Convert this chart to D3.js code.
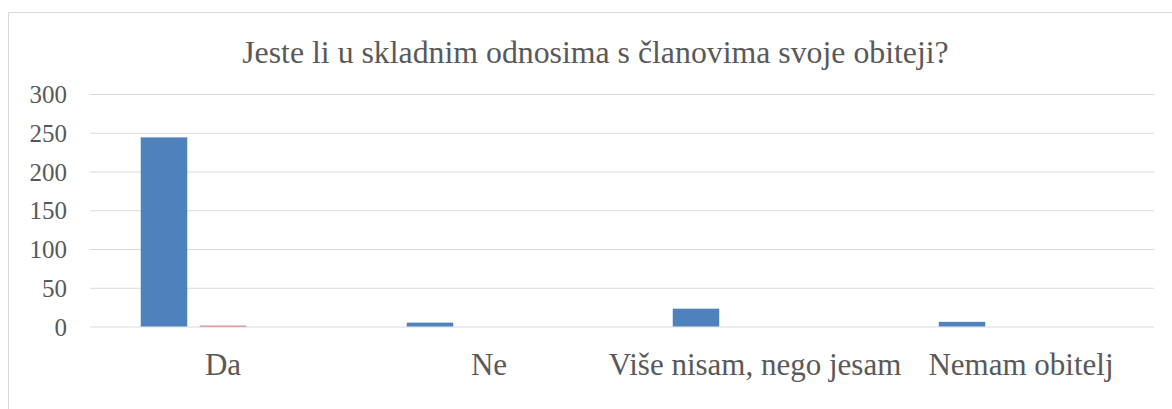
<!DOCTYPE html>
<html>
<head>
<meta charset="utf-8">
<script src="https://cdn.jsdelivr.net/npm/d3@7"></script>
<style>
  body { margin: 0; background: #fff; }
  svg { display: block; }
</style>
</head>
<body>
<svg id="chart" width="1172" height="409"></svg>
<script>
'use strict';

// Chart values.
var title = 'Jeste li u skladnim odnosima s članovima svoje obiteji?';
var categories = ['Da', 'Ne', 'Više nisam, nego jesam', 'Nemam obitelj'];
var seriesNames = ['Niz 1', 'Niz 2', 'Niz 3'];
var series1 = [244, 5, 23, 6];
var series2 = [1, 0, 0, 0];
var series3 = [0, 0, 0, 0];
var yTicks = [0, 50, 100, 150, 200, 250, 300];
var seriesColors = ['#4f81bd', '#c0504d', '#9bbb59'];

var fontFamily = '"Liberation Serif", "Times New Roman", serif';
var textColor = '#595959';
var svg = d3.select('#chart');

var plot = {left: 90, right: 1154, top: 94, bottom: 326.5};

// Outer frame, cut off at the right and bottom edges like the source.
svg.append('rect')
    .attr('x', 8.5)
    .attr('y', 12.5)
    .attr('width', 1250)
    .attr('height', 500)
    .attr('fill', 'none')
    .attr('stroke', '#d9d9d9');

var x0 = d3.scaleBand()
    .domain(categories)
    .range([plot.left, plot.right]);

// Inner band for the three series, group is centred inside each category.
var groupWidth = 164.5;
var x1 = d3.scaleBand()
    .domain(seriesNames)
    .range([(x0.bandwidth() - groupWidth) / 2, (x0.bandwidth() + groupWidth) / 2])
    .paddingInner(0.212);

var y = d3.scaleLinear()
    .domain([0, 300])
    .range([plot.bottom, plot.top]);

// Gridlines and value labels.
var yAxis = d3.axisLeft(y)
    .tickValues(yTicks)
    .tickSize(-(plot.right - plot.left))
    .tickPadding(23);

var yAxisG = svg.append('g')
    .attr('transform', 'translate(' + plot.left + ',0)')
    .call(yAxis);

yAxisG.select('.domain').remove();
yAxisG.selectAll('.tick line')
    .attr('stroke', '#d9d9d9')
    .attr('stroke-width', 1.2);
yAxisG.selectAll('.tick text')
    .style('font-family', fontFamily)
    .style('font-size', '25px')
    .attr('fill', textColor)
    .attr('dy', '0.34em');

// Bars, one group per category.
var rows = categories.map(function(c, i) {
    return {category: c, values: [series1[i], series2[i], series3[i]]};
});

var groups = svg.append('g')
    .selectAll('g')
    .data(rows)
    .join('g')
    .attr('transform', function(d) { return 'translate(' + x0(d.category) + ',0)'; });

groups.selectAll('rect')
    .data(function(d) {
        return d.values.map(function(v, i) { return {name: seriesNames[i], value: v, color: seriesColors[i]}; });
    })
    .join('rect')
    .attr('x', function(d) { return x1(d.name); })
    .attr('width', x1.bandwidth())
    .attr('y', function(d) { return y(d.value); })
    .attr('height', function(d) { return y(0) - y(d.value); })
    .attr('fill', function(d) { return d.color; });

// Category labels.
var xAxis = d3.axisBottom(x0)
    .tickSize(0)
    .tickPadding(0);

var xAxisG = svg.append('g')
    .attr('transform', 'translate(0,' + plot.bottom + ')')
    .call(xAxis);

xAxisG.select('.domain').remove();
xAxisG.selectAll('.tick text')
    .style('font-family', fontFamily)
    .style('font-size', '31px')
    .attr('fill', textColor)
    .attr('y', 48.5)
    .attr('dy', null);

// Title.
svg.append('text')
    .attr('x', 595.5)
    .attr('y', 63.3)
    .attr('text-anchor', 'middle')
    .style('font-family', fontFamily)
    .style('font-size', '31.8px')
    .attr('fill', textColor)
    .text(title);
</script>
</body>
</html>
